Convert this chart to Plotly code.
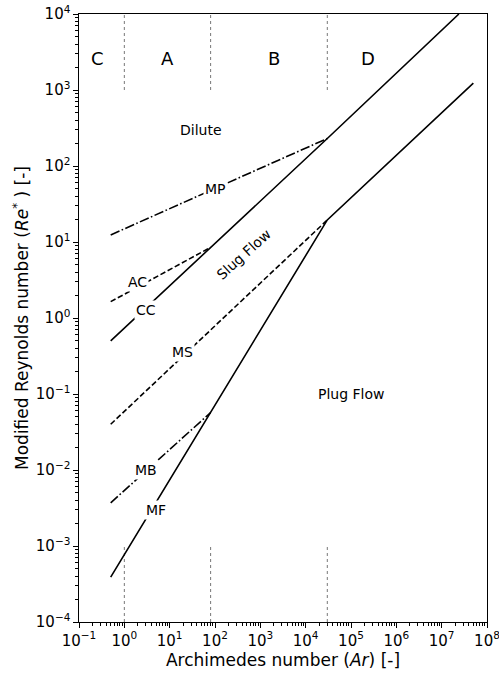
import numpy as np
import plotly.graph_objects as go

# ---- data ----
upper_x = [0.5, 80, 3e4, 2.4e7]
upper_y = [0.5, 8.5, 230, 1e4]

lower_x = [0.5, 80, 3e4, 5e7]
lower_y = [3.9e-4, 0.057, 19.5, 1230]

mp_x = [0.5, 3e4]
mp_y = [12.4, 230]

ac_x = [0.5, 80]
ac_y = [1.64, 8.5]

ms_x = [0.5, 3e4]
ms_y = [0.04, 19.5]

mb_x = [0.5, 80]
mb_y = [3.7e-3, 0.057]

boundary_ar = [1, 80, 3e4]

region_names = ["C", "A", "B", "D"]
region_ar = [0.25, 9, 2000, 2.4e5]

x_tickvals = [10.0 ** k for k in range(-1, 9)]
x_ticktext = ["10<sup>−1</sup>", "10<sup>0</sup>", "10<sup>1</sup>", "10<sup>2</sup>",
              "10<sup>3</sup>", "10<sup>4</sup>", "10<sup>5</sup>", "10<sup>6</sup>",
              "10<sup>7</sup>", "10<sup>8</sup>"]
y_tickvals = [10.0 ** k for k in range(-4, 5)]
y_ticktext = ["10<sup>−4</sup>", "10<sup>−3</sup>", "10<sup>−2</sup>", "10<sup>−1</sup>",
              "10<sup>0</sup>", "10<sup>1</sup>", "10<sup>2</sup>", "10<sup>3</sup>",
              "10<sup>4</sup>"]

FONT = "DejaVu Sans"
LW = 1.6
DASH = "5.5px,2.6px"
DASHDOT = "9.6px,2.4px,1.6px,2.4px"

fig = go.Figure()

# vertical dotted boundaries (top and bottom pieces)
vx, vy = [], []
for b in boundary_ar:
    vx += [b, b, None, b, b, None]
    vy += [1e3, 1e4, None, 1e-4, 1e-3, None]
fig.add_trace(go.Scatter(x=vx, y=vy, mode="lines",
                         line=dict(color="#777777", width=1, dash="dot"),
                         hoverinfo="skip", showlegend=False))

def add_line(x, y, dash):
    fig.add_trace(go.Scatter(x=x, y=y, mode="lines",
                             line=dict(color="black", width=LW, dash=dash),
                             showlegend=False))

add_line(upper_x, upper_y, "solid")
add_line(lower_x, lower_y, "solid")
add_line(mp_x, mp_y, DASHDOT)
add_line(ac_x, ac_y, DASH)
add_line(ms_x, ms_y, DASH)
add_line(mb_x, mb_y, DASHDOT)

lg = np.log10

# region labels
for name, ar in zip(region_names, region_ar):
    fig.add_annotation(x=lg(ar), y=lg(2600), text=name, showarrow=False,
                       font=dict(family=FONT, size=18, color="black"))

# inline line labels (white background breaks the line)
line_labels = [("MP", 100, 50), ("AC", 1.95, 3.0), ("CC", 3.0, 1.27),
               ("MS", 19.5, 0.36), ("MB", 3.0, 0.01), ("MF", 5.0, 3.0e-3)]
for txt, xx, yy in line_labels:
    fig.add_annotation(x=lg(xx), y=lg(yy), text=txt, showarrow=False,
                       bgcolor="white", borderpad=1,
                       font=dict(family=FONT, size=14, color="black"))

fig.add_annotation(x=lg(49), y=lg(300), text="Dilute", showarrow=False,
                   font=dict(family=FONT, size=14, color="black"))
fig.add_annotation(x=lg(1e5), y=lg(0.1), text="Plug Flow", showarrow=False,
                   font=dict(family=FONT, size=14, color="black"))
fig.add_annotation(x=lg(436), y=lg(7.0), text="Slug Flow", showarrow=False,
                   textangle=-42,
                   font=dict(family=FONT, size=14, color="black"))

axis_common = dict(
    type="log", showgrid=False, zeroline=False, automargin=False,
    ticklabeloverflow="allow",
    showline=True, linecolor="black", linewidth=1.2, mirror=True,
    ticks="outside", ticklen=4.5, tickwidth=1.1, tickcolor="black",
    tickfont=dict(family=FONT, size=15, color="black"),
    minor=dict(ticks="outside", ticklen=2.5, tickwidth=0.8, tickcolor="black",
               dtick="D1", showgrid=False),
    tickmode="array",
)

fig.update_xaxes(**axis_common, range=[-1, 8], tickvals=x_tickvals, ticktext=x_ticktext,
                 title=dict(text="Archimedes number (<i>Ar</i>) [-]",
                            font=dict(family=FONT, size=17, color="black"), standoff=0))
fig.update_yaxes(**axis_common, range=[-4, 4], tickvals=y_tickvals, ticktext=y_ticktext,
                 title=dict(text="Modified Reynolds number (<i>Re</i><sup>*</sup> ) [-]",
                            font=dict(family=FONT, size=17, color="black"), standoff=2))

fig.update_layout(width=499, height=673,
                  margin=dict(l=79, r=12, t=14, b=51),
                  paper_bgcolor="white", plot_bgcolor="white",
                  showlegend=False)

fig.write_html("out.html")
